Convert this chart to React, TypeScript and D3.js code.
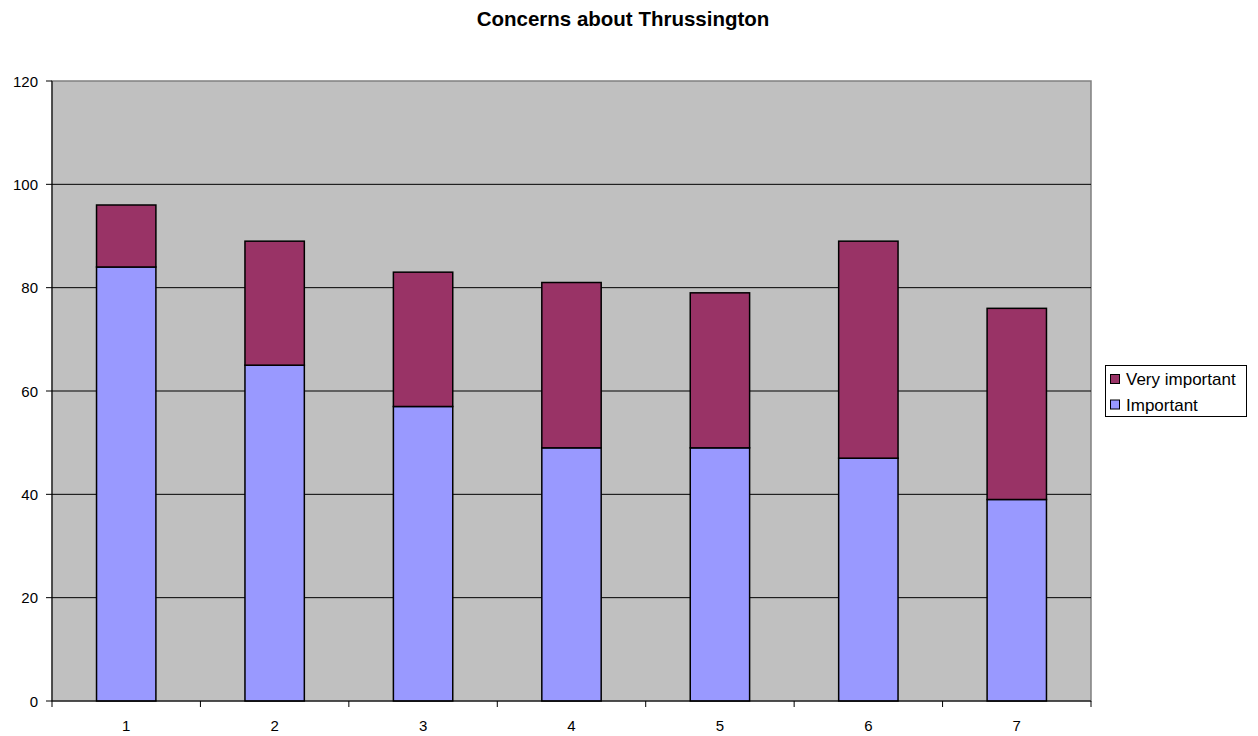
import React from "react";
import * as d3 from "d3";

const categories = ["1", "2", "3", "4", "5", "6", "7"];
const important = [84, 65, 57, 49, 49, 47, 39];
const veryImportant = [12, 24, 26, 32, 30, 42, 37];
const yTicks = [0, 20, 40, 60, 80, 100, 120];
const seriesNames = ["Important", "Very important"];
const colors = ["#9999FF", "#993366"];

export default function App() {
  const W = 1258, H = 736;
  const left = 52, right = 1091, top = 81, bottom = 701;
  const x = d3.scaleBand().domain(categories).range([left, right]).paddingInner(0.6).paddingOuter(0.3);
  const step = (right - left) / categories.length;
  const y = d3.scaleLinear().domain([0, 120]).range([bottom, top]);
  const rows = categories.map((c, i) => ({ c, Important: important[i], "Very important": veryImportant[i] }));
  const stacked = d3.stack<any>().keys(seriesNames)(rows);
  const font = "Arial, 'Liberation Sans', sans-serif";
  return (
    <svg width={W} height={H} style={{ position: "absolute", left: 0, top: 0 }} fontFamily={font}>
      <rect x={0} y={0} width={W} height={H} fill="#fff" />
      <text x={623} y={26} textAnchor="middle" fontWeight="bold" fontSize={20.5}>Concerns about Thrussington</text>
      <rect x={left} y={top} width={right - left} height={bottom - top} fill="#C0C0C0" stroke="#808080" strokeWidth={1.5} />
      {yTicks.filter(t => t > 0 && t < 120).map(t => (
        <line key={t} x1={left} x2={right} y1={y(t)} y2={y(t)} stroke="#000" strokeWidth={1} />
      ))}
      {stacked.map((s, si) => s.map((d, i) => (
        <rect key={si + "-" + i} x={x(categories[i])} width={x.bandwidth()} y={y(d[1])} height={y(d[0]) - y(d[1])}
          fill={colors[si]} stroke="#000" strokeWidth={1.5} />
      )))}
      <line x1={left} x2={left} y1={top} y2={bottom} stroke="#000" />
      <line x1={left} x2={right} y1={bottom} y2={bottom} stroke="#000" />
      {yTicks.map(t => (
        <g key={t}>
          <line x1={left - 6} x2={left} y1={y(t)} y2={y(t)} stroke="#000" />
          <text x={left - 14} y={y(t) + 5.5} textAnchor="end" fontSize={15}>{t}</text>
        </g>
      ))}
      {d3.range(categories.length + 1).map(i => (
        <line key={i} x1={left + i * step} x2={left + i * step} y1={bottom} y2={bottom + 6} stroke="#000" />
      ))}
      {categories.map(c => (
        <text key={c} x={(x(c) as number) + x.bandwidth() / 2} y={bottom + 30} textAnchor="middle" fontSize={15}>{c}</text>
      ))}
      <rect x={1105.5} y={365.5} width={141} height={51} fill="#fff" stroke="#000" />
      {[1, 0].map((si, row) => (
        <g key={si}>
          <rect x={1110.5} y={374.5 + row * 25.5} width={9} height={9} fill={colors[si]} stroke="#000" />
          <text x={1126} y={385 + row * 25.5} fontSize={17}>{seriesNames[si]}</text>
        </g>
      ))}
    </svg>
  );
}
